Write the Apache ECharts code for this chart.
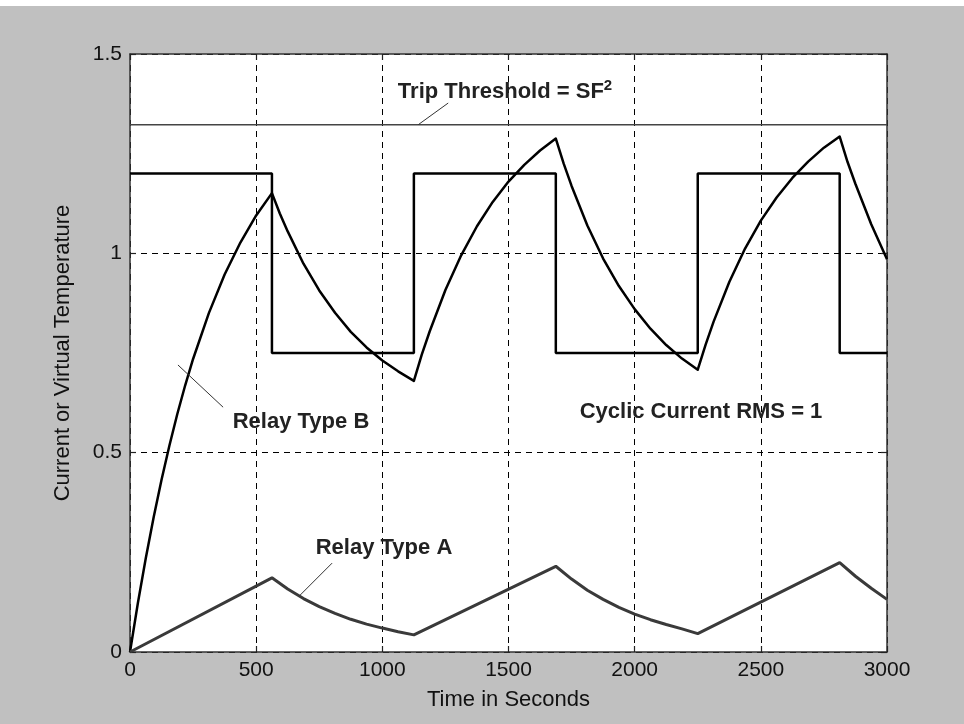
<!DOCTYPE html>
<html><head><meta charset="utf-8">
<script src="https://cdn.jsdelivr.net/npm/echarts@6/dist/echarts.min.js"></script>
<style>html,body{margin:0;padding:0;background:#c0c0c0}#c{width:964px;height:724px}</style>
</head><body><div id="c"></div>
<script>
// ---- data ----
var xTicks = [0, 500, 1000, 1500, 2000, 2500, 3000];
var yTicks = [0, 0.5, 1, 1.5];
var tripThreshold = 1.3225;

var stepTimes  = [0, 562.5, 562.5, 1125, 1125, 1687.5, 1687.5, 2250, 2250, 2812.5, 2812.5, 3000];
var stepValues = [1.2, 1.2, 0.75, 0.75, 1.2, 1.2, 0.75, 0.75, 1.2, 1.2, 0.75, 0.75];

var relayBTimes = [0, 31.25, 62.5, 93.75, 125, 156.25, 187.5, 218.75, 250, 312.5, 375, 437.5, 500, 562.5,
  593.75, 625, 687.5, 750, 812.5, 875, 937.5, 1000, 1062.5, 1125,
  1156.25, 1187.5, 1250, 1312.5, 1375, 1437.5, 1500, 1562.5, 1625, 1687.5,
  1718.75, 1750, 1812.5, 1875, 1937.5, 2000, 2062.5, 2125, 2187.5, 2250,
  2281.25, 2312.5, 2375, 2437.5, 2500, 2562.5, 2625, 2687.5, 2750, 2812.5,
  2843.75, 2875, 2937.5, 3000];
var relayBValues = [0, 0.123, 0.235, 0.338, 0.432, 0.518, 0.597, 0.669, 0.735, 0.850, 0.947, 1.027, 1.095, 1.151,
  1.100, 1.055, 0.974, 0.907, 0.851, 0.803, 0.764, 0.731, 0.704, 0.680,
  0.746, 0.804, 0.908, 0.995, 1.068, 1.129, 1.180, 1.222, 1.258, 1.288,
  1.225, 1.169, 1.070, 0.987, 0.918, 0.860, 0.811, 0.770, 0.736, 0.708,
  0.771, 0.828, 0.928, 1.012, 1.082, 1.140, 1.189, 1.230, 1.265, 1.293,
  1.229, 1.174, 1.073, 0.985];

var relayATimes = [0, 562.5, 625, 687.5, 750, 812.5, 875, 937.5, 1000, 1062.5, 1125,
  1687.5, 1750, 1812.5, 1875, 1937.5, 2000, 2062.5, 2125, 2187.5, 2250,
  2812.5, 2875, 2937.5, 3000];
var relayAValues = [0, 0.186, 0.158, 0.134, 0.114, 0.097, 0.082, 0.070, 0.060, 0.051, 0.043,
  0.215, 0.183, 0.155, 0.132, 0.112, 0.095, 0.081, 0.069, 0.058, 0.046,
  0.224, 0.190, 0.160, 0.132];

// leader lines (data coordinates)
var leaderTrip = [[1142, 1.3225], [1261, 1.377]];
var leaderB = [[190, 0.72], [369, 0.614]];
var leaderA = [[670, 0.140], [801, 0.223]];

function zip(a, b) { return a.map(function (v, i) { return [v, b[i]]; }); }

var FONT = 'Liberation Sans, Arial, sans-serif';
var chart = echarts.init(document.getElementById('c'));
var axisCommon = function (type, pos, show) {
  return {
    type: 'value', position: pos, min: 0,
    max: type === 'x' ? 3000 : 1.5, interval: type === 'x' ? 500 : 0.5,
    axisLine: { show: true, onZero: false, lineStyle: { color: '#333', width: 1.5 } },
    axisTick: { show: true, inside: true, length: 6, lineStyle: { color: '#222', width: 1.2 } },
    axisLabel: { show: show, color: '#111', fontFamily: FONT, fontSize: 21,
                 margin: 8, formatter: function (v) { return String(v); } },
    splitLine: { show: show, lineStyle: { color: '#000', width: 1, type: [6, 5] } }
  };
};
var xa = axisCommon('x', 'bottom', true);
xa.name = 'Time in Seconds'; xa.nameLocation = 'middle'; xa.nameGap = 37;
xa.nameTextStyle = { color: '#111', fontFamily: FONT, fontSize: 22 };
var ya = axisCommon('y', 'left', true);
ya.name = 'Current or Virtual Temperature'; ya.nameLocation = 'middle'; ya.nameGap = 56;
ya.nameTextStyle = { color: '#111', fontFamily: FONT, fontSize: 22 };
var xa2 = axisCommon('x', 'top', false);
var ya2 = axisCommon('y', 'right', false);

var txt = { fontFamily: FONT, fontSize: 22, fontWeight: 'bold', fill: '#222' };
function label(x, y, t) {
  var s = Object.assign({}, txt, { text: t, x: x, y: y, textAlign: 'center', textVerticalAlign: 'middle' });
  return { type: 'text', z: 100, style: s };
}

chart.setOption({
  animation: false,
  backgroundColor: '#c0c0c0',
  grid: { left: 130, top: 54, right: 77, bottom: 72, show: true, backgroundColor: '#fff', borderWidth: 0 },
  xAxis: [xa, xa2],
  yAxis: [ya, ya2],
  graphic: [
    { type: 'rect', shape: { x: 0, y: 0, width: 964, height: 6 }, style: { fill: '#fff' } },
    {
      type: 'text', z: 100, x: 505, y: 92,
      style: {
        text: 'Trip Threshold = SF{s|2}', textAlign: 'center', textVerticalAlign: 'middle',
        fontFamily: FONT, fontSize: 22, fontWeight: 'bold', fill: '#222',
        rich: { s: { fontSize: 15, fontWeight: 'bold', fill: '#222', verticalAlign: 'top', padding: [0, 0, 12, 0],
                     fontFamily: FONT } }
      }
    },
    label(301, 422, 'Relay Type B'),
    label(384, 548, 'Relay Type A'),
    label(701, 412, 'Cyclic Current RMS = 1')
  ],
  series: [
    { type: 'line', data: [[0, tripThreshold], [3000, tripThreshold]], showSymbol: false, silent: true,
      lineStyle: { color: '#444', width: 1.5 }, z: 3 },
    { type: 'line', data: zip(stepTimes, stepValues), showSymbol: false,
      lineStyle: { color: '#000', width: 2.5 }, z: 4 },
    { type: 'line', data: zip(relayBTimes, relayBValues), showSymbol: false,
      lineStyle: { color: '#000', width: 2.5, join: 'round' }, z: 5 },
    { type: 'line', data: zip(relayATimes, relayAValues), showSymbol: false,
      lineStyle: { color: '#3a3a3a', width: 3 }, z: 5 },
    { type: 'line', data: leaderTrip, showSymbol: false, lineStyle: { color: '#333', width: 1 }, z: 6 },
    { type: 'line', data: leaderB, showSymbol: false, lineStyle: { color: '#333', width: 1 }, z: 6 },
    { type: 'line', data: leaderA, showSymbol: false, lineStyle: { color: '#333', width: 1 }, z: 6 }
  ]
});
</script></body></html>
